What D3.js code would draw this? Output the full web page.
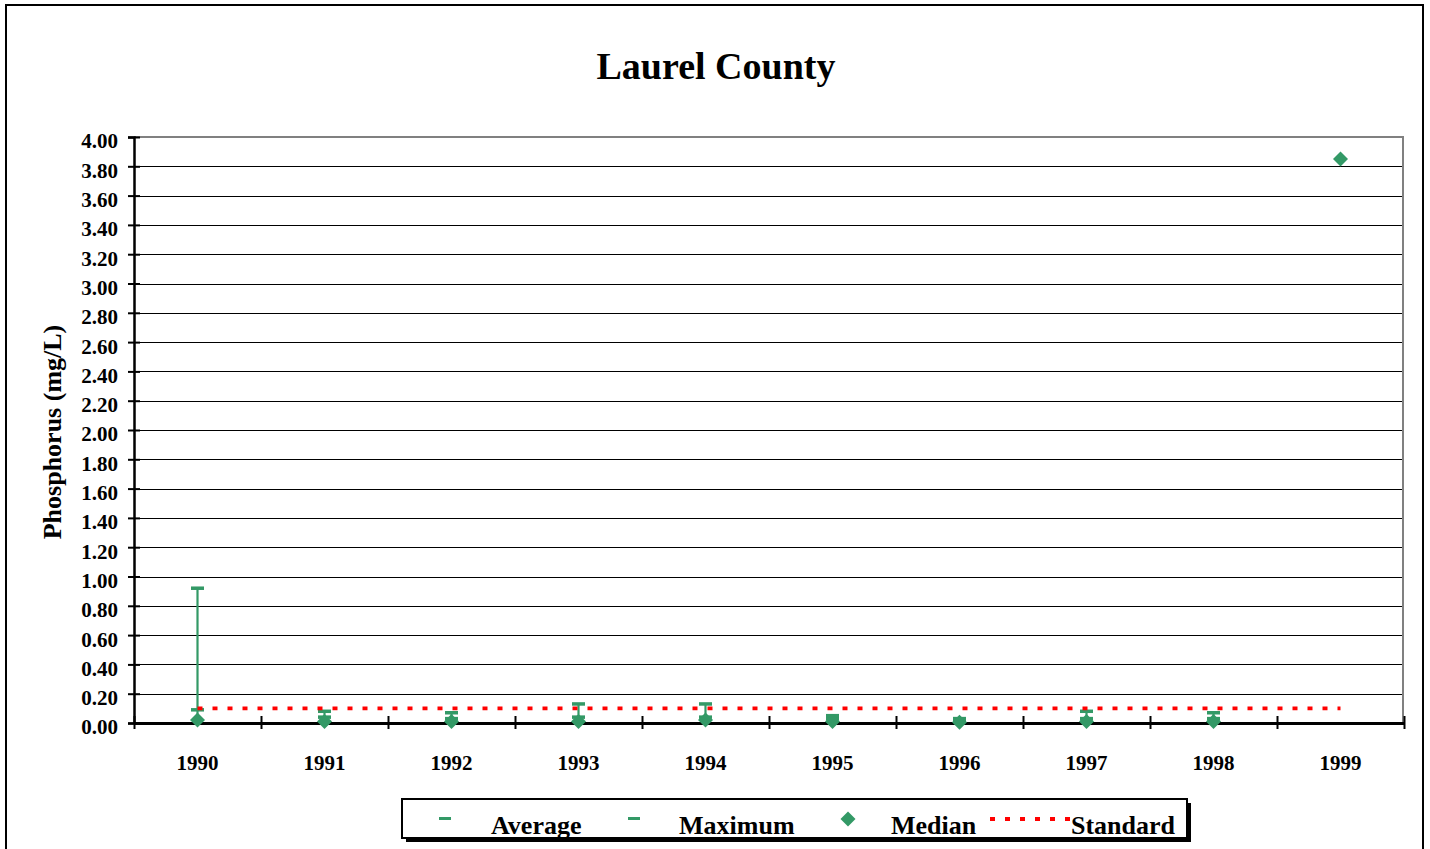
<!DOCTYPE html>
<html>
<head>
<meta charset="utf-8">
<script src="https://cdn.jsdelivr.net/npm/d3@7"></script>
<style>
  html, body { margin: 0; padding: 0; background: #fff; }
  svg { display: block; }
  text { font-family: "Liberation Serif", "Times New Roman", serif; font-weight: bold; fill: #000; }
</style>
</head>
<body>
<svg id="chart" width="1430" height="849"></svg>
<script>
// Annual phosphorus summary, Laurel County (mg/L)
const years    = ["1990", "1991", "1992", "1993", "1994", "1995", "1996", "1997", "1998", "1999"];
const average  = [0.09, 0.04, 0.03, 0.04, 0.04, 0.03, 0.02, 0.03, 0.03, null];
const maximum  = [0.92, 0.08, 0.07, 0.13, 0.13, 0.05, 0.03, 0.08, 0.07, null];
const median   = [0.02, 0.01, 0.01, 0.01, 0.02, 0.01, 0.005, 0.01, 0.01, 3.85];
const standard = [0.10, 0.10, 0.10, 0.10, 0.10, 0.10, 0.10, 0.10, 0.10, 0.10];
const yTicks   = d3.range(0, 21).map(i => +(i * 0.2).toFixed(2));
const legendLabels = ["Average", "Maximum", "Median", "Standard"];

const GREEN = "#339966", RED = "#ff0000";
const svg = d3.select("#chart");

// outer chart frame
svg.append("rect").attr("x", 6).attr("y", 5).attr("width", 1417).attr("height", 900)
  .attr("fill", "none").attr("stroke", "#000").attr("stroke-width", 2);

const plot = { left: 134, right: 1404, top: 137, bottom: 723 };
const x = d3.scaleBand().domain(years).range([plot.left, plot.right]).padding(0);
const xEdge = d3.scaleLinear().domain([0, years.length]).range([plot.left, plot.right]);
const y = d3.scaleLinear().domain([0, 4]).range([plot.bottom, plot.top]);
const cx = d => x(d) + x.bandwidth() / 2;

// title
svg.append("text").attr("x", 716).attr("y", 79).attr("text-anchor", "middle")
  .style("font-size", "38px").text("Laurel County");

// horizontal gridlines
svg.append("g").selectAll("line").data(yTicks.filter(v => v > 0 && v < 4)).join("line")
  .attr("x1", plot.left).attr("x2", plot.right - 1)
  .attr("y1", d => Math.round(y(d)) + 0.5).attr("y2", d => Math.round(y(d)) + 0.5)
  .attr("stroke", "#000").attr("stroke-width", 1.2);

// plot-area border (grey top and right)
svg.append("path")
  .attr("d", `M${plot.left},${plot.top}H${plot.right - 1}V${plot.bottom}`)
  .attr("fill", "none").attr("stroke", "#808080").attr("stroke-width", 2);

// y axis
const yAxis = svg.append("g").attr("transform", `translate(${plot.left},0)`)
  .call(d3.axisLeft(y).tickValues(yTicks).tickFormat(d3.format(".2f")).tickSize(6).tickPadding(10));
yAxis.select(".domain").attr("stroke", "#000").attr("stroke-width", 2.5);
yAxis.selectAll(".tick line").attr("x1", 6).attr("stroke", "#000").attr("stroke-width", 2);
yAxis.selectAll(".tick text").attr("dy", "0.52em").style("font-size", "21px")
  .style("font-family", "'Liberation Serif', serif").style("font-weight", "bold");

// y axis title
svg.append("text").attr("transform", "translate(61,432) rotate(-90)")
  .attr("text-anchor", "middle").style("font-size", "26px").text("Phosphorus (mg/L)");

// x axis line and category boundary ticks
const xTickAxis = svg.append("g").attr("transform", `translate(0,${plot.bottom})`)
  .call(d3.axisBottom(xEdge).tickValues(d3.range(years.length + 1)).tickFormat("").tickSize(6).tickSizeOuter(0));
xTickAxis.select(".domain").attr("stroke", "#000").attr("stroke-width", 3);
xTickAxis.selectAll(".tick line").attr("y1", -7).attr("stroke", "#000").attr("stroke-width", 2);

// x category labels
const xLabels = svg.append("g").attr("transform", `translate(0,${plot.bottom})`)
  .call(d3.axisBottom(x).tickSize(0).tickPadding(32));
xLabels.select(".domain").remove();
xLabels.selectAll(".tick text").style("font-size", "21px")
  .style("font-family", "'Liberation Serif', serif").style("font-weight", "bold");

// high-low lines spanning each year's series
const rows = years.map((yr, i) => ({ yr, vals: [average[i], maximum[i], median[i]].filter(v => v != null) }));
svg.append("g").selectAll("line").data(rows.filter(r => r.vals.length > 1)).join("line")
  .attr("x1", d => cx(d.yr)).attr("x2", d => cx(d.yr))
  .attr("y1", d => y(d3.max(d.vals))).attr("y2", d => y(d3.min(d.vals)))
  .attr("stroke", GREEN).attr("stroke-width", 2.2);

// dash markers for average and maximum
const dashW = 13, dashH = 3.5;
[average, maximum].forEach(series => {
  svg.append("g").selectAll("rect")
    .data(years.map((yr, i) => ({ yr, v: series[i] })).filter(d => d.v != null)).join("rect")
    .attr("x", d => cx(d.yr) - dashW / 2).attr("y", d => y(d.v) - dashH / 2)
    .attr("width", dashW).attr("height", dashH).attr("fill", GREEN);
});

// diamond markers for median
const diamond = s => `M0,${-s}L${s},0L0,${s}L${-s},0Z`;
svg.append("g").selectAll("path")
  .data(years.map((yr, i) => ({ yr, v: median[i] })).filter(d => d.v != null)).join("path")
  .attr("transform", d => `translate(${cx(d.yr)},${y(d.v)})`)
  .attr("d", diamond(7.5)).attr("fill", GREEN);

// standard (dotted red line)
const line = d3.line().x((d, i) => cx(years[i])).y(d => y(d));
svg.append("path").datum(standard).attr("d", line)
  .attr("fill", "none").attr("stroke", RED).attr("stroke-width", 3.8)
  .attr("stroke-dasharray", "5,10");

// legend
const lg = svg.append("g");
lg.append("rect").attr("x", 406).attr("y", 803).attr("width", 785).attr("height", 39).attr("fill", "#000");
lg.append("rect").attr("x", 402).attr("y", 799).attr("width", 785).attr("height", 39)
  .attr("fill", "#fff").attr("stroke", "#000").attr("stroke-width", 2);

const legendX = [491, 679, 891, 1071];
legendLabels.forEach((lab, i) => {
  lg.append("text").attr("x", legendX[i]).attr("y", 834).style("font-size", "26px").text(lab);
});
lg.append("rect").attr("x", 439).attr("y", 817).attr("width", 12).attr("height", 3).attr("fill", GREEN);
lg.append("rect").attr("x", 628).attr("y", 817).attr("width", 12).attr("height", 3).attr("fill", GREEN);
lg.append("path").attr("transform", "translate(848,819)").attr("d", diamond(7.5)).attr("fill", GREEN);
lg.append("line").attr("x1", 990).attr("x2", 1070).attr("y1", 819).attr("y2", 819)
  .attr("stroke", RED).attr("stroke-width", 3.8).attr("stroke-dasharray", "5,10");
</script>
</body>
</html>
